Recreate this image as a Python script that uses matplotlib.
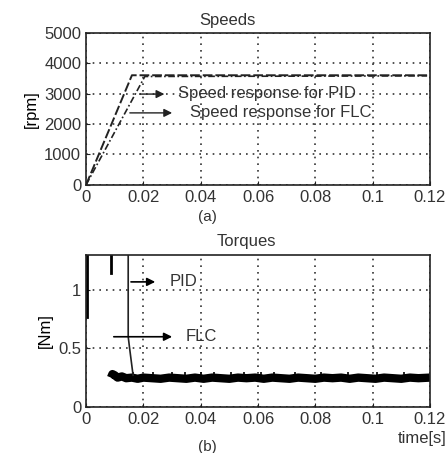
import numpy as np
import matplotlib
matplotlib.use('Agg')
import matplotlib.pyplot as plt

plt.rcParams['font.family'] = ['Liberation Sans', 'DejaVu Sans']
plt.rcParams['font.size'] = 12

# --- data ---
# speeds [rpm]
pid_speed_t = [0.0, 0.016, 0.119]
pid_speed = [0, 3610, 3610]
flc_speed_t = [0.0, 0.0205, 0.119]
flc_speed = [0, 3570, 3590]

# torques [Nm]
pid_torque_t = [0.0147, 0.0147, 0.0152, 0.0164]
pid_torque = [1.40, 0.60, 0.50, 0.27]
start_spike_t = [0.0003, 0.0003, np.nan, 0.0087, 0.0087]
start_spike = [1.40, 0.77, np.nan, 1.40, 1.15]
flc_band_t = [0.0087, 0.0092, 0.0100, 0.0110, 0.0125, 0.0140, 0.0160, 0.0180,
              0.0200, 0.0230, 0.0260, 0.0290, 0.0320, 0.0350, 0.0380, 0.0410,
              0.0440, 0.0470, 0.0500, 0.0530, 0.0560, 0.0590, 0.0620, 0.0650,
              0.0680, 0.0710, 0.0740, 0.0770, 0.0800, 0.0830, 0.0860, 0.0890,
              0.0920, 0.0950, 0.0980, 0.1010, 0.1040, 0.1070, 0.1100, 0.1130,
              0.1160, 0.1200]
flc_band = [0.25, 0.28, 0.27, 0.25, 0.26, 0.245, 0.25, 0.24, 0.25, 0.245,
            0.24, 0.25, 0.245, 0.24, 0.25, 0.24, 0.25, 0.245, 0.24, 0.25,
            0.245, 0.25, 0.24, 0.25, 0.245, 0.24, 0.25, 0.245, 0.24, 0.25,
            0.245, 0.25, 0.24, 0.25, 0.245, 0.24, 0.25, 0.245, 0.24, 0.25,
            0.245, 0.25]
spike_t = [0.0100, 0.0165, 0.0235, 0.0300, 0.0345, 0.0400, 0.0445, 0.0505,
           0.0550, 0.0610, 0.0655, 0.0730, 0.0820, 0.0915, 0.1015, 0.1110]
spike_top = 0.30

xticks = [0, 0.02, 0.04, 0.06, 0.08, 0.1, 0.12]
xticklabels = ['0', '0.02', '0.04', '0.06', '0.08', '0.1', '0.12']

fig = plt.figure(figsize=(4.46, 4.53), dpi=100)
ax1 = fig.add_axes([0.193, 0.592, 0.771, 0.335])
ax2 = fig.add_axes([0.193, 0.102, 0.771, 0.335])

ink = '#222222'

# --- speeds ---
ax1.plot(pid_speed_t, pid_speed, color=ink, lw=1.4, ls=(0, (5, 1.5)))
ax1.plot(flc_speed_t, flc_speed, color=ink, lw=1.2, ls=(0, (4, 1.5, 1, 1.5)))
ax1.set_xlim(0, 0.12)
ax1.set_ylim(0, 5000)
ax1.set_yticks([0, 1000, 2000, 3000, 4000, 5000])
ax1.set_ylabel('[rpm]')

ax1.annotate('', xy=(0.0283, 2990), xytext=(0.0178, 2990),
             arrowprops=dict(arrowstyle='-|>', color=ink, lw=1, mutation_scale=12))
ax1.text(0.032, 3000, 'Speed response for PID', va='center', color='#333333')
ax1.annotate('', xy=(0.031, 2370), xytext=(0.0143, 2370),
             arrowprops=dict(arrowstyle='-|>', color=ink, lw=1, mutation_scale=12))
ax1.text(0.0363, 2380, 'Speed response for FLC', va='center', color='#333333')

# --- torques ---
ax2.plot(flc_band_t, flc_band, color='black', lw=6, solid_capstyle='butt')
ax2.vlines(spike_t, 0.24, spike_top, color='black', lw=1.2)
ax2.plot(start_spike_t, start_spike, color='black', lw=2)
ax2.plot(pid_torque_t, pid_torque, color=ink, lw=1.2)
ax2.set_xlim(0, 0.12)
ax2.set_ylim(0, 1.3)
ax2.set_yticks([0, 0.5, 1])
ax2.set_yticklabels(['0', '0.5', '1'])
ax2.set_ylabel('[Nm]')

ax2.annotate('', xy=(0.0251, 1.07), xytext=(0.0147, 1.07),
             arrowprops=dict(arrowstyle='-|>', color='black', lw=1.2, mutation_scale=12))
ax2.text(0.0293, 1.07, 'PID', va='center', color='#333333')
ax2.annotate('', xy=(0.031, 0.60), xytext=(0.0087, 0.60),
             arrowprops=dict(arrowstyle='-|>', color='black', lw=1.2, mutation_scale=12))
ax2.text(0.0349, 0.60, 'FLC', va='center', color='#333333')

for ax in (ax1, ax2):
    ax.set_xticks(xticks)
    ax.set_xticklabels(xticklabels)
    ax.grid(True, linestyle=(0, (1, 3)), color='#333333', lw=1.2)
    ax.tick_params(direction='in', length=3, colors='#222222', labelcolor='#333333')
    for s in ax.spines.values():
        s.set_color('#222222')
        s.set_linewidth(1.2)

fig.text(227 / 446, 1 - 20 / 453, 'Speeds', ha='center', va='center', color='#333333')
fig.text(246 / 446, 1 - 242 / 453, 'Torques', ha='center', va='center', color='#333333')
fig.text(207 / 446, 1 - 217 / 453, '(a)', ha='center', va='center', fontsize=11, color='#333333')
fig.text(207 / 446, 1 - 447 / 453, '(b)', ha='center', va='center', fontsize=11, color='#333333')
fig.text(1.0, 1 - 438 / 453, 'time[s]', ha='right', va='center', color='#333333')

fig.savefig('out.png', dpi=100)
